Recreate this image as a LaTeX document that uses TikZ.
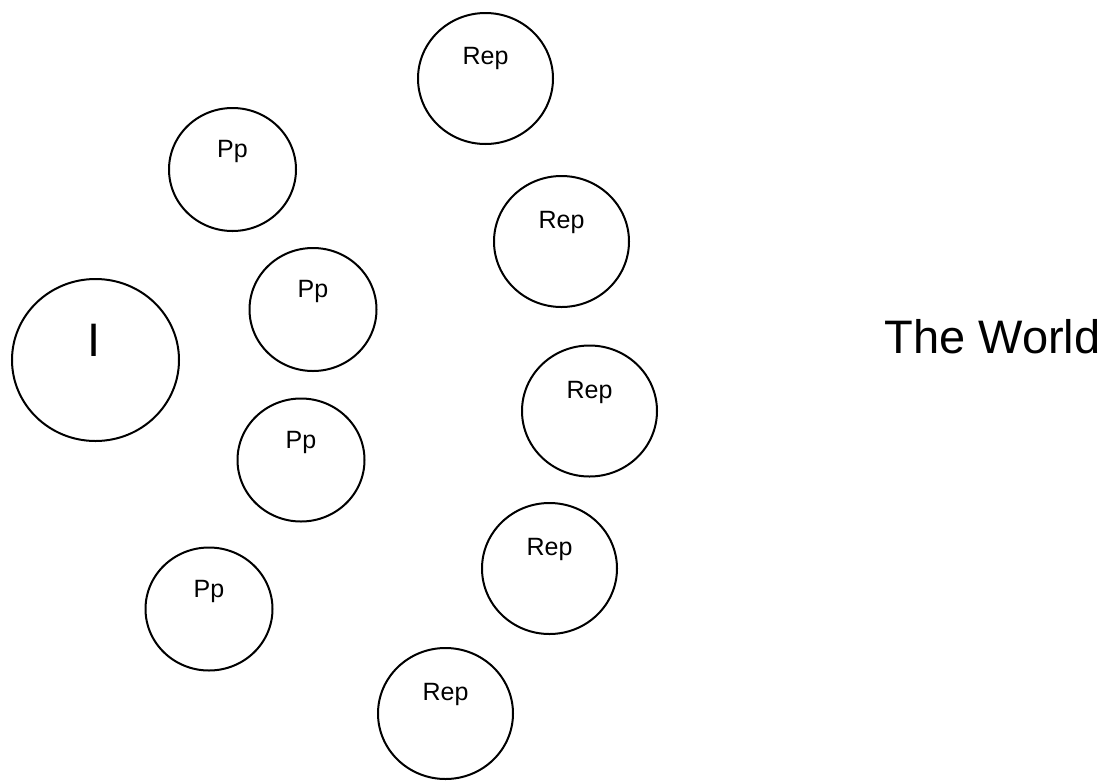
\documentclass[tikz,border=0pt]{standalone}
\usepackage{fontspec}
\setmainfont{Liberation Sans}
\usetikzlibrary{shapes.geometric}
\begin{document}
\begin{tikzpicture}[x=1pt,y=-1pt,
  ring/.style={draw=black,line width=2pt,ellipse,inner sep=0pt,outer sep=0pt},
  ppc/.style={ring,minimum width=127pt,minimum height=123pt},
  repc/.style={ring,minimum width=135pt,minimum height=131pt},
  bigc/.style={ring,minimum width=167pt,minimum height=162pt},
  lbl/.style={anchor=base,inner sep=0pt,font=\fontsize{25}{30}\selectfont},
  biglbl/.style={anchor=base,inner sep=0pt,font=\fontsize{47}{56}\selectfont}]
\useasboundingbox (0,0) rectangle (1109,780);
% I
\node[bigc] (I) at (95.5,360) {};
\node[biglbl] (It) at (94.5,356) {I};
% Pp circles
\node[ppc] (p1) at (232.5,169.5) {};
\node[ppc] (p2) at (313,309.5) {};
\node[ppc] (p3) at (301,460) {};
\node[ppc] (p4) at (209,609) {};
\node[lbl] (p1t) at ([yshift=12pt]p1.center) {Pp};
\node[lbl] (p2t) at ([yshift=12pt]p2.center) {Pp};
\node[lbl] (p3t) at ([yshift=12pt]p3.center) {Pp};
\node[lbl] (p4t) at ([yshift=12pt]p4.center) {Pp};
% Rep circles
\node[repc] (r1) at (485.5,78.5) {};
\node[repc] (r2) at (561.5,241.5) {};
\node[repc] (r3) at (589.5,411) {};
\node[repc] (r4) at (549.5,568.5) {};
\node[repc] (r5) at (445.5,713.5) {};
\node[lbl] (r1t) at ([yshift=14pt]r1.center) {Rep};
\node[lbl] (r2t) at ([yshift=13pt]r2.center) {Rep};
\node[lbl] (r3t) at ([yshift=13pt]r3.center) {Rep};
\node[lbl] (r4t) at ([yshift=13pt]r4.center) {Rep};
\node[lbl] (r5t) at ([yshift=13pt]r5.center) {Rep};
% The World
\node[biglbl] (world) at (992.5,353) {The World};
\end{tikzpicture}
\end{document}
